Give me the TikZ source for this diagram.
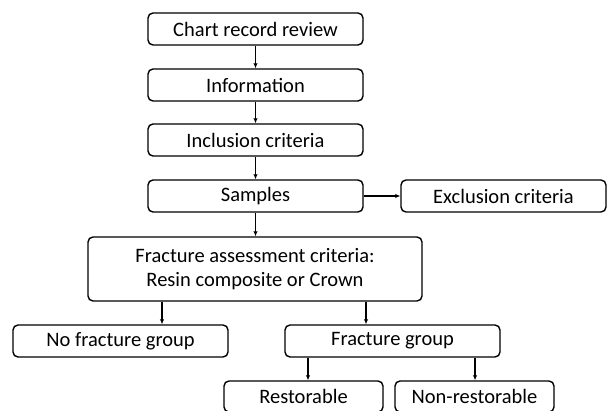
\documentclass[tikz,border=0pt]{standalone}
\usepackage{fontspec}
\setmainfont{Carlito}
\usetikzlibrary{arrows.meta}
\begin{document}
\begin{tikzpicture}[x=1pt,y=-1pt,
  box/.style={draw=black, line width=1.4pt, rounded corners=5pt, fill=white, inner sep=0pt, align=center, font=\fontsize{20.5}{24}\selectfont},
  arr/.style={line width=1.1pt, -{Latex[length=5pt,width=4.5pt]}}]
\useasboundingbox (0,0) rectangle (608,411);
\node[box, minimum width=215pt, minimum height=32pt] (chart) at (255.5,29) {Chart record review};
\node[box, minimum width=215pt, minimum height=32pt] (info) at (255.5,85) {Information};
\node[box, minimum width=215pt, minimum height=32pt] (incl) at (255.5,140) {Inclusion criteria};
\node[box, minimum width=215pt, minimum height=32pt] (samp) at (255.5,196) {Samples};
\node[box, minimum width=205pt, minimum height=32pt] (excl) at (503.5,196) {Exclusion criteria};
\node[box, minimum width=334pt, minimum height=64pt] (fac) at (255,269) {Fracture assessment criteria:\\Resin composite or Crown};
\node[box, minimum width=215pt, minimum height=32pt] (nofr) at (120.5,341) {No fracture group};
\node[box, minimum width=215pt, minimum height=32pt] (frg) at (392.5,341) {Fracture group};
\node[box, minimum width=159pt, minimum height=31pt] (rest) at (303.5,396.5) {Restorable};
\node[box, minimum width=159pt, minimum height=31pt] (nonr) at (474.5,396.5) {Non-restorable};
\coordinate (a1) at (162,0);
\coordinate (a2) at (366,0);
\coordinate (a3) at (308,0);
\coordinate (a4) at (475,0);
\draw[arr] (chart) -- (info);
\draw[arr] (info) -- (incl);
\draw[arr] (incl) -- (samp);
\draw[arr] (samp) -- (excl);
\draw[arr] (samp.south) -- (samp.south |- fac.north);
\draw[arr] (fac.south -| a1) -- (nofr.north -| a1);
\draw[arr] (fac.south -| a2) -- (frg.north -| a2);
\draw[arr] (frg.south -| a3) -- (rest.north -| a3);
\draw[arr] (frg.south -| a4) -- (nonr.north -| a4);
\end{tikzpicture}
\end{document}
